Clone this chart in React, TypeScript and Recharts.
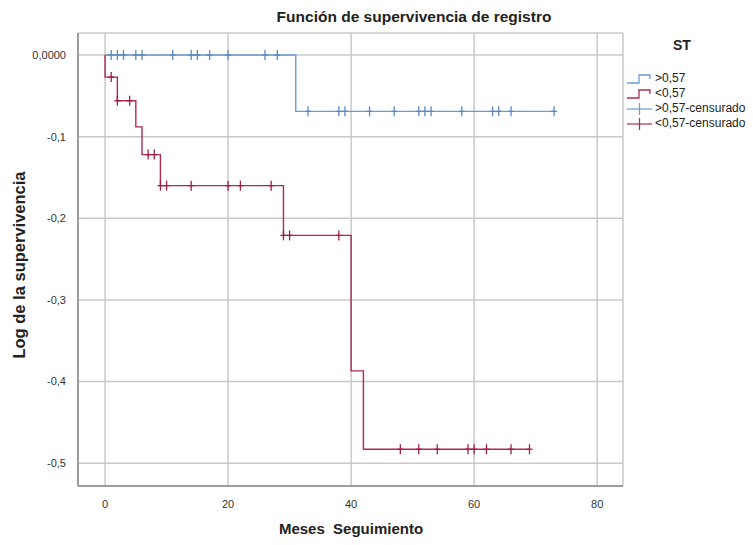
import React from 'react';
import {
  ComposedChart,
  Line,
  Scatter,
  XAxis,
  YAxis,
  CartesianGrid,
  Legend,
} from 'recharts';

// step curves (time in months, log survival)
const highTimes = [0, 31, 73];
const highLogS = [0, -0.069, -0.069];

const lowTimes = [0, 0, 2, 5, 6, 9, 29, 40, 42, 69];
const lowLogS = [0, -0.027, -0.056, -0.088, -0.122, -0.16, -0.221, -0.387, -0.483, -0.483];

// censored cases
const highCensTimes = [1, 2, 3, 5, 6, 11, 14, 15, 17, 20, 26, 28, 33, 38, 39, 43, 47, 51, 52, 53, 58, 63, 64, 66, 73];
const highCensLogS = [0, 0, 0, 0, 0, 0, 0, 0, 0, 0, 0, 0, -0.069, -0.069, -0.069, -0.069, -0.069, -0.069, -0.069, -0.069, -0.069, -0.069, -0.069, -0.069, -0.069];

const lowCensTimes = [1, 2, 4, 7, 8, 9, 10, 14, 20, 22, 27, 29, 30, 38, 48, 51, 54, 59, 60, 62, 66, 69];
const lowCensLogS = [-0.027, -0.056, -0.056, -0.122, -0.122, -0.16, -0.16, -0.16, -0.16, -0.16, -0.16, -0.221, -0.221, -0.221, -0.483, -0.483, -0.483, -0.483, -0.483, -0.483, -0.483, -0.483];

const xTicks = [0, 20, 40, 60, 80];
const yTicks = [0, -0.1, -0.2, -0.3, -0.4, -0.5];

const legendLabels = ['>0,57', '<0,57', '>0,57-censurado', '<0,57-censurado'];

const BLUE = '#6c9bd2';
const RED = '#b02a50';
const BLUE_MARK = '#5a88c0';
const RED_MARK = '#9e1f43';
const FONT = '"Liberation Sans", Arial, sans-serif';

const pairs = (ts: number[], ys: number[]) => ts.map((t, i) => ({ t, y: ys[i] }));

const highData = pairs(highTimes, highLogS);
const lowData = pairs(lowTimes, lowLogS);
const highCens = pairs(highCensTimes, highCensLogS);
const lowCens = pairs(lowCensTimes, lowCensLogS);

const cross = (color: string) => (props: any) => {
  const { cx, cy } = props;
  return (
    <g stroke={color} strokeWidth={1.3}>
      <line x1={cx} y1={cy - 5} x2={cx} y2={cy + 5} />
      <line x1={cx - 3} y1={cy} x2={cx + 3} y2={cy} />
    </g>
  );
};

const StepIcon = ({ color }: { color: string }) => (
  <svg width={28} height={12} style={{ verticalAlign: 'middle' }}>
    <path d="M1 10 H13 V2 H24 V6" fill="none" stroke={color} strokeWidth={1.3} />
  </svg>
);

const CrossIcon = ({ color }: { color: string }) => (
  <svg width={28} height={12} style={{ verticalAlign: 'middle' }}>
    <line x1={1} y1={6} x2={26} y2={6} stroke={color} strokeWidth={1.2} />
    <line x1={13.5} y1={0} x2={13.5} y2={12} stroke={color} strokeWidth={1.2} />
  </svg>
);

const renderLegend = () => (
  <div style={{ fontFamily: FONT, color: '#222' }}>
    <div style={{ fontWeight: 'bold', fontSize: 14, marginLeft: 47, marginBottom: 18 }}>ST</div>
    {legendLabels.map((lab, i) => (
      <div key={lab} style={{ fontSize: 12, height: 15, lineHeight: '15px', whiteSpace: 'nowrap' }}>
        {i === 0 && <StepIcon color={BLUE} />}
        {i === 1 && <StepIcon color={RED} />}
        {i === 2 && <CrossIcon color={BLUE} />}
        {i === 3 && <CrossIcon color={RED} />}
        <span style={{ marginLeft: 1 }}>{lab}</span>
      </div>
    ))}
  </div>
);

const fmtY = (v: number) => (v === 0 ? '0,0000' : v.toFixed(1).replace('.', ','));

export default function App() {
  return (
    <div style={{ position: 'absolute', left: 0, top: 0, width: 753, height: 545, background: '#fff' }}>
      <div
        style={{
          position: 'absolute',
          top: 8,
          left: 414 - 200,
          width: 400,
          textAlign: 'center',
          fontFamily: FONT,
          fontSize: 15.5,
          fontWeight: 'bold',
          color: '#222',
        }}
      >
        Función de supervivencia de registro
      </div>
      <div
        style={{
          position: 'absolute',
          left: 20 - 150,
          top: 265 - 10,
          width: 300,
          height: 20,
          textAlign: 'center',
          transform: 'rotate(-90deg)',
          fontFamily: FONT,
          fontSize: 16.5,
          fontWeight: 'bold',
          color: '#222',
        }}
      >
        Log de la supervivencia
      </div>
      <div
        style={{
          position: 'absolute',
          left: 351 - 150,
          top: 520,
          width: 300,
          textAlign: 'center',
          fontFamily: FONT,
          fontSize: 15,
          fontWeight: 'bold',
          color: '#222',
        }}
      >
        Meses&nbsp; Seguimiento
      </div>
      <ComposedChart
        width={753}
        height={545}
        margin={{ top: 33, right: 130, bottom: 29, left: 18 }}
        style={{ position: 'absolute', left: 0, top: 0 }}
      >
        <CartesianGrid stroke="#c8c8c8" strokeWidth={1.5} />
        <XAxis
          type="number"
          dataKey="t"
          domain={[-4.4, 84.2]}
          ticks={xTicks}
          height={30}
          tickLine={false}
          axisLine={{ stroke: '#8a8a8a', strokeWidth: 1.5 }}
          tick={{ fontSize: 11, fill: '#333', fontFamily: FONT }}
          tickMargin={8}
          allowDataOverflow
        />
        <YAxis
          type="number"
          dataKey="y"
          domain={[-0.528, 0.027]}
          ticks={yTicks}
          width={60}
          tickLine={false}
          axisLine={{ stroke: '#8a8a8a', strokeWidth: 1.5 }}
          tick={{ fontSize: 11, fill: '#333', fontFamily: FONT }}
          tickFormatter={fmtY}
          tickMargin={6}
          allowDataOverflow
        />
        <Legend
          layout="vertical"
          align="center"
          verticalAlign="middle"
          content={renderLegend}
          wrapperStyle={{ left: 626, top: 37, width: 127 }}
        />
        <Line
          data={highData}
          dataKey="y"
          type="stepAfter"
          stroke={BLUE}
          strokeWidth={1.4}
          dot={false}
          activeDot={false}
          isAnimationActive={false}
        />
        <Line
          data={lowData}
          dataKey="y"
          type="stepAfter"
          stroke={RED}
          strokeWidth={1.4}
          dot={false}
          activeDot={false}
          isAnimationActive={false}
        />
        <Scatter data={highCens} dataKey="y" shape={cross(BLUE_MARK)} isAnimationActive={false} />
        <Scatter data={lowCens} dataKey="y" shape={cross(RED_MARK)} isAnimationActive={false} />
      </ComposedChart>
    </div>
  );
}
